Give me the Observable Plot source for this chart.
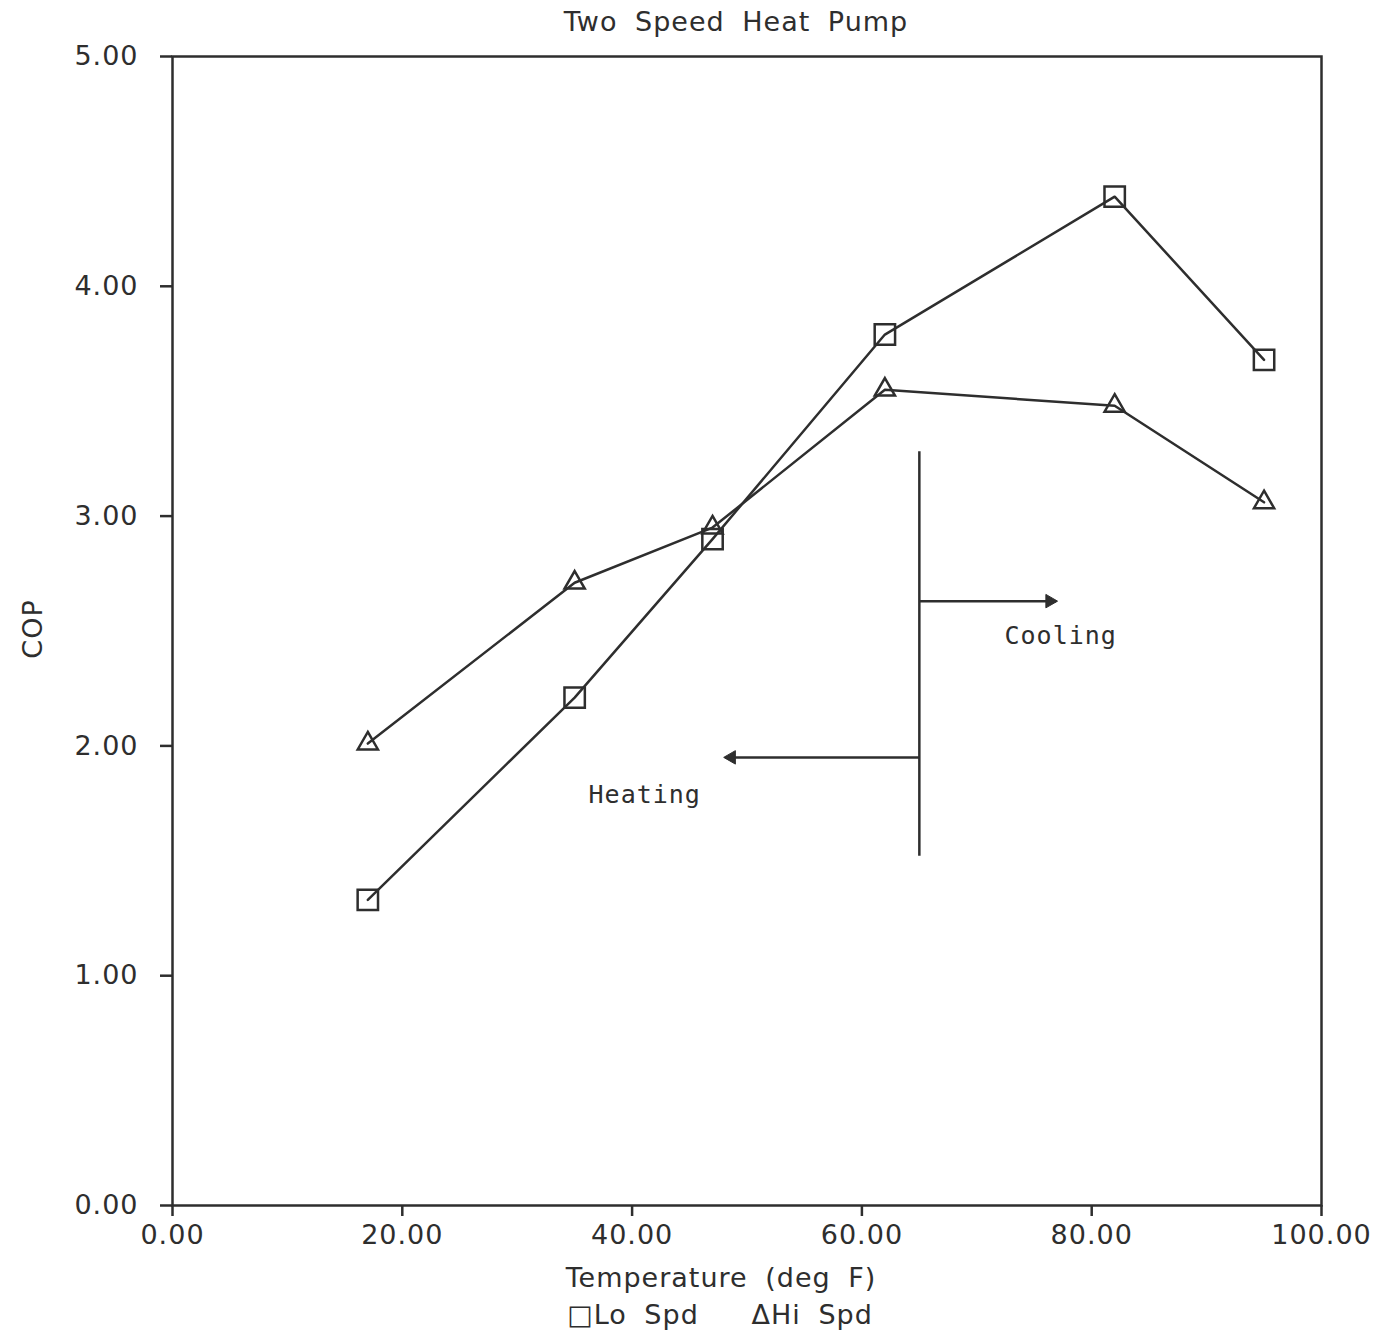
<!DOCTYPE html>
<html>
<head>
<meta charset="utf-8">
<script src="https://cdn.jsdelivr.net/npm/d3@7"></script>
<script src="https://cdn.jsdelivr.net/npm/@observablehq/plot@0.6"></script>
<style>
  html, body { margin: 0; padding: 0; background: #fff; }
  #chart svg { display: block; }
  #chart svg text { letter-spacing: 1px; word-spacing: 8px; }
</style>
</head>
<body>
<div id="chart"></div>
<script>
// ---- data ----
const title = "Two Speed Heat Pump";
const xLabel = "Temperature (deg F)";
const yLabel = "COP";
const temps = [17, 35, 47, 62, 82, 95];
const loSpd = [1.33, 2.21, 2.90, 3.79, 4.39, 3.68];
const hiSpd = [2.01, 2.71, 2.95, 3.55, 3.48, 3.06];
const seriesNames = ["Lo Spd", "Hi Spd"];
const seriesSymbols = ["square", "triangle"];
const xTicks = [0, 20, 40, 60, 80, 100];
const yTicks = [0, 1, 2, 3, 4, 5];
// annotation: divider between heating and cooling
const dividerX = 65;
const dividerY = [1.52, 3.28];
const coolingArrow = {x1: 65, x2: 76.9, y: 2.63};
const heatingArrow = {x1: 65, x2: 48.1, y: 1.95};
const annLabels = [
  {text: "Cooling", x: 77.3, y: 2.48},
  {text: "Heating", x: 41.1, y: 1.785}
];

const ink = "#2e2e2e";
const rows = [];
temps.forEach((t, i) => {
  rows.push({series: seriesNames[0], symbol: seriesSymbols[0], x: t, y: loSpd[i]});
  rows.push({series: seriesNames[1], symbol: seriesSymbols[1], x: t, y: hiSpd[i]});
});
const arrows = [
  {x1: coolingArrow.x1, x2: coolingArrow.x2, y: coolingArrow.y, dir: 90},
  {x1: heatingArrow.x1, x2: heatingArrow.x2, y: heatingArrow.y, dir: -90}
];
const fmt = d => d.toFixed(2);

const chart = Plot.plot({
  width: 1384,
  height: 1338,
  marginLeft: 172,
  marginRight: 63,
  marginTop: 56,
  marginBottom: 133,
  style: {fontFamily: "'DejaVu Sans', sans-serif", fontSize: "27px", color: ink, background: "#fff"},
  x: {domain: [0, 100]},
  y: {domain: [0, 5]},
  marks: [
    Plot.frame({stroke: ink, strokeWidth: 2.5}),
    Plot.axisX({ticks: xTicks, tickFormat: fmt, tickSize: 11, tickPadding: 8, label: null, stroke: ink, strokeWidth: 2.5, fill: ink}),
    Plot.axisY({ticks: yTicks, tickFormat: fmt, tickSize: 12, tickPadding: 22, label: null, stroke: ink, strokeWidth: 2.5, fill: ink}),
    // divider and arrows
    Plot.ruleX([dividerX], {y1: dividerY[0], y2: dividerY[1], stroke: ink, strokeWidth: 2.5}),
    Plot.link(arrows, {x1: "x1", x2: "x2", y1: "y", y2: "y", stroke: ink, strokeWidth: 2.5}),
    Plot.dot(arrows, {x: d => d.x2 + (d.dir > 0 ? -0.55 : 0.55), y: "y", symbol: "triangle", rotate: "dir", r: 5, fill: ink, stroke: ink, strokeWidth: 1}),
    Plot.text(annLabels, {x: "x", y: "y", text: "text", fontFamily: "'DejaVu Sans Mono', monospace", fontSize: 25, fill: ink}),
    // series
    Plot.line(rows, {x: "x", y: "y", z: "series", stroke: ink, strokeWidth: 2.5}),
    Plot.dot(rows.filter(d => d.symbol === "square"), {x: "x", y: "y", symbol: "square", r: 11.5, stroke: ink, strokeWidth: 2.5, fill: "none"}),
    Plot.dot(rows.filter(d => d.symbol === "triangle"), {x: "x", y: "y", symbol: "triangle", r: 7.5, stroke: ink, strokeWidth: 2.5, fill: "none"}),
    // titles
    Plot.text([title], {frameAnchor: "top", text: d => d, dy: -34, dx: -11, textAnchor: "middle", lineAnchor: "middle", fontSize: 27, fill: ink}),
    Plot.text([xLabel], {frameAnchor: "bottom", text: d => d, dy: 73, dx: -26, textAnchor: "middle", lineAnchor: "middle", fontSize: 27, fill: ink}),
    Plot.text([yLabel], {frameAnchor: "left", text: d => d, dx: -139, dy: -2, rotate: -90, textAnchor: "middle", lineAnchor: "middle", fontSize: 27, fill: ink}),
    Plot.text(["\u25A1" + seriesNames[0] + "   \u0394" + seriesNames[1]], {frameAnchor: "bottom", text: d => d, dy: 110, dx: -27, textAnchor: "middle", lineAnchor: "middle", fontSize: 27, fill: ink})
  ]
});
document.getElementById("chart").appendChild(chart);
</script>
</body>
</html>
